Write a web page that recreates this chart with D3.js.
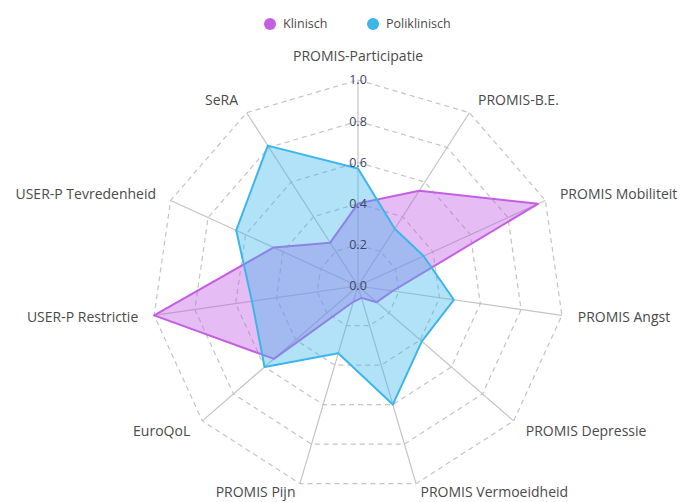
<!DOCTYPE html>
<html>
<head>
<meta charset="utf-8">
<script src="https://cdn.jsdelivr.net/npm/d3@7"></script>
<style>
  body { margin: 0; background: #fff; }
  svg { font-family: "Open Sans", sans-serif; }
</style>
</head>
<body>
<div id="chart"></div>
<script>
// axes of the radar, clockwise from the top
const categories = ["PROMIS-Participatie", "PROMIS-B.E.", "PROMIS Mobiliteit", "PROMIS Angst",
  "PROMIS Depressie", "PROMIS Vermoeidheid", "PROMIS Pijn", "EuroQoL",
  "USER-P Restrictie", "USER-P Tevredenheid", "SeRA"];

const seriesNames = ["Klinisch", "Poliklinisch"];
const klinisch = [0.40, 0.55, 0.96, 0.17, 0.12, 0.06, 0.08, 0.54, 1.00, 0.45, 0.25];
const poliklinisch = [0.57, 0.33, 0.35, 0.47, 0.41, 0.60, 0.34, 0.60, 0.52, 0.65, 0.81];
const tickValues = [0, 0.2, 0.4, 0.6, 0.8, 1.0];

const width = 680, height = 502;
const cx = 358, cy = 286, radius = 206;

const colors = {Klinisch: "#c45fe4", Poliklinisch: "#3cb6ea"};

const svg = d3.select("#chart")
  .append("svg")
    .attr("width", width)
    .attr("height", height);

const r = d3.scaleLinear().domain([0, 1]).range([0, radius]);
const angle = d3.scaleLinear().domain([0, categories.length]).range([0, 2 * Math.PI]);

const g = svg.append("g").attr("transform", `translate(${cx}, ${cy})`);

function point(i, v) {
  const a = angle(i) - Math.PI / 2;
  return [Math.cos(a) * r(v), Math.sin(a) * r(v)];
}

// grid rings (dashed)
g.selectAll(".ring")
  .data(tickValues.slice(1))
  .join("polygon")
    .attr("class", "ring")
    .attr("points", v => categories.map((c, i) => point(i, v).join(",")).join(" "))
    .attr("fill", "none")
    .attr("stroke", "#c4c4c4")
    .attr("stroke-width", 1.2)
    .attr("stroke-dasharray", "5,4");

// spokes
g.selectAll(".spoke")
  .data(categories)
  .join("line")
    .attr("class", "spoke")
    .attr("x1", 0).attr("y1", 0)
    .attr("x2", (c, i) => point(i, 1)[0])
    .attr("y2", (c, i) => point(i, 1)[1])
    .attr("stroke", "#c4c4c4")
    .attr("stroke-width", 1.2);

// series
const line = d3.lineRadial()
  .angle((d, i) => angle(i))
  .radius(d => r(d))
  .curve(d3.curveLinearClosed);

const series = [
  {name: "Klinisch", values: klinisch, fill: "rgba(196, 95, 228, 0.42)"},
  {name: "Poliklinisch", values: poliklinisch, fill: "rgba(60, 182, 234, 0.4)"}
];

g.selectAll(".area")
  .data(series)
  .join("path")
    .attr("class", "area")
    .attr("d", d => line(d.values))
    .attr("fill", d => d.fill)
    .attr("stroke", d => colors[d.name])
    .attr("stroke-width", 2)
    .attr("stroke-linejoin", "round");

// tick labels along the top spoke
g.selectAll(".tick")
  .data(tickValues)
  .join("text")
    .attr("class", "tick")
    .attr("x", 0)
    .attr("y", v => -r(v))
    .attr("dy", "0.35em")
    .attr("text-anchor", "middle")
    .attr("font-size", "12.5px")
    .attr("fill", "#3b4663")
    .text(v => d3.format(".1f")(v));

// axis labels
g.selectAll(".label")
  .data(categories)
  .join("text")
    .attr("class", "label")
    .each(function(c, i) {
      const a = angle(i) - Math.PI / 2;
      const [x, y] = point(i, 1);
      const cos = Math.cos(a), sin = Math.sin(a);
      let anchor = "middle";
      if (cos > 0.05) anchor = "start";
      else if (cos < -0.05) anchor = "end";
      let dy = 15 * sin;
      if (sin < -0.99) dy -= 9;
      if (sin > 0.9) dy = 8;
      d3.select(this)
        .attr("x", x + 16 * cos)
        .attr("y", y + dy)
        .attr("text-anchor", anchor);
    })
    .attr("dy", "0.35em")
    .attr("font-size", "14px")
    .attr("fill", "#4a4a4a")
    .text(c => c);

// legend
const legend = svg.append("g").attr("transform", "translate(0, 24)");
const legendX = [270, 373];
const items = legend.selectAll(".item")
  .data(seriesNames)
  .join("g")
    .attr("class", "item")
    .attr("transform", (d, i) => `translate(${legendX[i]}, 0)`);
items.append("circle")
  .attr("r", 6)
  .attr("fill", d => colors[d]);
items.append("text")
  .attr("x", 13)
  .attr("dy", "0.35em")
  .attr("font-size", "12.5px")
  .attr("fill", "#4a4a4a")
  .text(d => d);
</script>
</body>
</html>
